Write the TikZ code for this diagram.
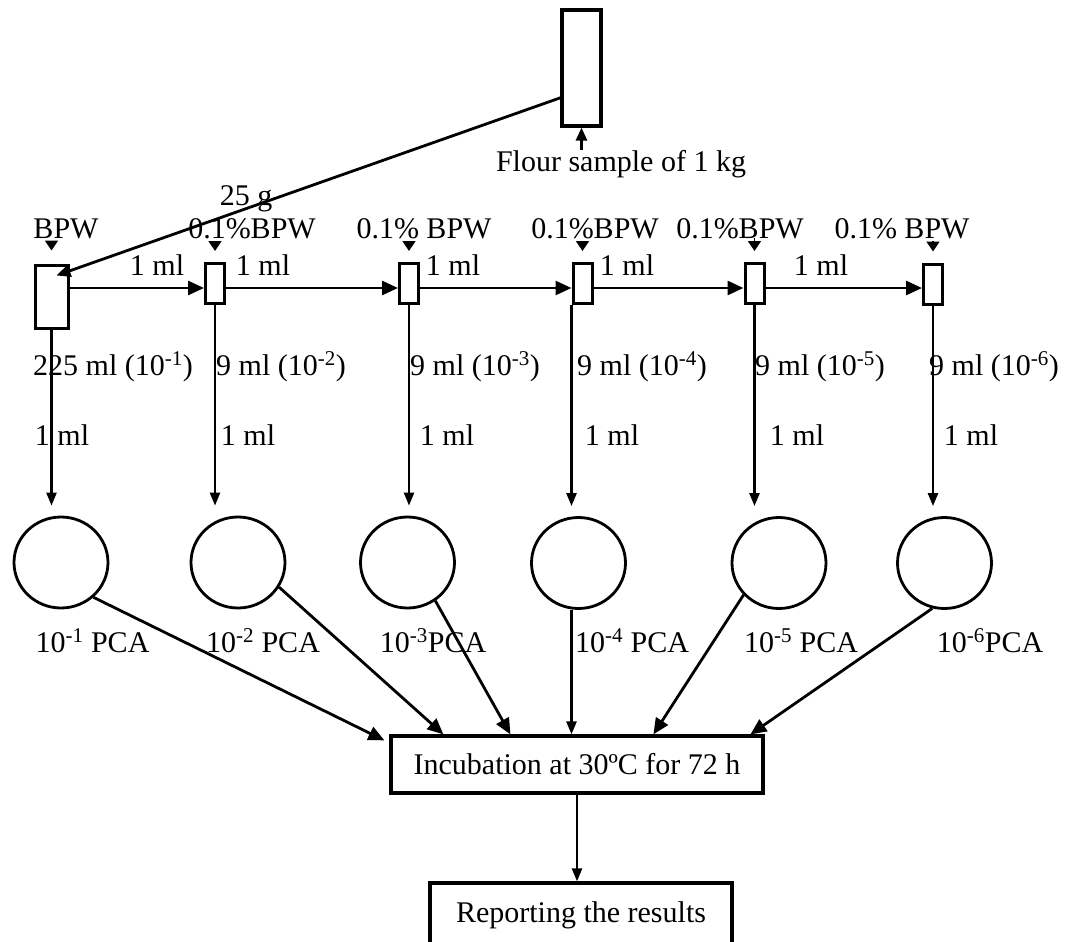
\documentclass[tikz,border=0pt]{standalone}
\usepackage{fontspec}
\setmainfont{Liberation Serif}
\usetikzlibrary{arrows.meta,calc,shapes.geometric}
\begin{document}
\begin{tikzpicture}[x=1pt,y=-1pt,
  every node/.style={font=\fontsize{30}{36}\selectfont},
  lbl/.style={inner sep=0pt, anchor=base},
  lblw/.style={inner sep=0pt, anchor=base west},
  tube/.style={draw, line width=3pt, rectangle, inner sep=0pt,
               minimum width=19pt, minimum height=40pt},
  plate/.style={draw, line width=2.8pt, ellipse, inner sep=0pt,
                minimum width=94pt, minimum height=91pt},
  stepbox/.style={draw, line width=3.2pt, rectangle, inner sep=0pt},
  conn/.style={line width=2.8pt, -{Triangle[length=16pt,width=14pt]}},
  drop/.style={line width=2.4pt, -{Triangle[length=13pt,width=10pt]}},
  feed/.style={line width=1.8pt, -{Triangle[length=10pt,width=13pt]},
               shorten <=3pt, shorten >=11pt},
]
\fill[white] (0,0) rectangle (1069,942);
\useasboundingbox (0,0) rectangle (1069,942);

% flour sample container
\node[stepbox, minimum width=39pt, minimum height=116pt] (flour) at (581.5,68) {};
\node[lbl] (flourlbl) at (621,171) {Flour sample of 1 kg};

% dilution tubes
\node[tube, minimum width=33pt, minimum height=63pt] (t1) at (51.5,296.5) {};
\node[tube] (t2) at (215,283.5) {};
\node[tube] (t3) at (409,283.5) {};
\node[tube] (t4) at (582.5,283.5) {};
\node[tube] (t5) at (754.5,283.5) {};
\node[tube] (t6) at (933,284) {};

% diluent labels
\node[lbl] (b1) at (66,238) {BPW};
\node[lbl] (b2) at (252,238) {0.1\%BPW};
\node[lbl] (b3) at (424,238) {0.1\% BPW};
\node[lbl] (b4) at (595,238) {0.1\%BPW};
\node[lbl] (b5) at (740,238) {0.1\%BPW};
\node[lbl] (b6) at (902,238) {0.1\% BPW};

\draw[feed, shorten >=13pt] (b1.base -| t1.north) -- (t1.north);
\draw[feed] (b2.base -| t2.north) -- (t2.north);
\draw[feed] (b3.base -| t3.north) -- (t3.north);
\draw[feed] (b4.base -| t4.north) -- (t4.north);
\draw[feed, shorten <=0pt] (b5.base -| t5.north) -- (t5.north);
\draw[feed] (b6.base -| t6.north) -- (t6.north);

% 25 g taken from the sample
\node[lbl] (g25) at (246,205) {25 g};
\draw[conn, -{Triangle[length=14pt,width=12pt]}]
  ($(flour.south west)!0.25!(flour.north west)$) -- ($(t1.north east)+(-13,12)$);
\draw[conn, -{Triangle[length=13pt,width=11pt]}] (flourlbl.north -| flour.south) -- (flour.south);

% serial transfers
\coordinate (row) at (0,288);
\draw[conn] (t1.east |- row) -- (t2.west |- row);
\draw[conn] (t2.east |- row) -- (t3.west |- row);
\draw[conn] (t3.east |- row) -- (t4.west |- row);
\draw[conn] (t4.east |- row) -- (t5.west |- row);
\draw[conn] (t5.east |- row) -- (t6.west |- row);

\node[lbl] (m1) at (157,275) {1 ml};
\node[lbl] (m2) at (263,275) {1 ml};
\node[lbl] (m3) at (453,275) {1 ml};
\node[lbl] (m4) at (627,275) {1 ml};
\node[lbl] (m5) at (821,275) {1 ml};

% plates
\node[plate] (c1) at (61,562.5) {};
\node[plate] (c2) at (238,562.5) {};
\node[plate] (c3) at (407.5,562.5) {};
\node[plate] (c4) at (578.5,563) {};
\node[plate] (c5) at (779,563) {};
\node[plate] (c6) at (944.5,563) {};

% volume labels
\node[lblw] (v1) at (33,375) {225 ml (10\textsuperscript{-1})};
\node[lblw] (v2) at (216,375) {9 ml (10\textsuperscript{-2})};
\node[lblw] (v3) at (410,375) {9 ml (10\textsuperscript{-3})};
\node[lblw] (v4) at (577,375) {9 ml (10\textsuperscript{-4})};
\node[lblw] (v5) at (755,375) {9 ml (10\textsuperscript{-5})};
\node[lblw] (v6) at (929,375) {9 ml (10\textsuperscript{-6})};

\node[lbl] (p1) at (62,445) {1 ml};
\node[lbl] (p2) at (248,445) {1 ml};
\node[lbl] (p3) at (447,445) {1 ml};
\node[lbl] (p4) at (612,445) {1 ml};
\node[lbl] (p5) at (797,445) {1 ml};
\node[lbl] (p6) at (971,445) {1 ml};

% plating
\draw[drop, shorten >=10pt] (t1.south) -- (t1.south |- c1.north);
\draw[drop, shorten >=10pt] (t2.south) -- (t2.south |- c2.north);
\draw[drop, shorten >=10pt] (t3.south) -- (t3.south |- c3.north);
\draw[drop, shorten >=10pt] (t4.south west) -- (t4.south west |- c4.north);
\draw[drop, shorten >=10pt] (t5.south) -- (t5.south |- c5.north);
\draw[drop, shorten >=10pt] (t6.south) -- (t6.south |- c6.north);

\node[lbl] (l1) at (92.5,652) {10\textsuperscript{-1} PCA};
\node[lbl] (l2) at (263,652) {10\textsuperscript{-2} PCA};
\node[lbl] (l3) at (433,652) {10\textsuperscript{-3}PCA};
\node[lbl] (l4) at (632,652) {10\textsuperscript{-4} PCA};
\node[lbl] (l5) at (801,652) {10\textsuperscript{-5} PCA};
\node[lbl] (l6) at (990,652) {10\textsuperscript{-6}PCA};

% incubation and reporting
\node[stepbox, minimum width=372pt, minimum height=57pt] (inc) at (577,764.5)
  {Incubation at 30ºC for 72 h};
\node[stepbox, minimum width=302pt, minimum height=64pt] (rep) at (581,915)
  {Reporting the results};

\draw[conn] (c1.-47) -- ($(inc.north west)+(-5,6)$);
\draw[conn] (c2.-31) -- ($(inc.north west)+(54,0)$);
\draw[conn] (c3.-54) -- ($(inc.north west)+(121,0)$);
\draw[drop] (c4.south -| t4.south west) -- (inc.north -| t4.south west);
\draw[conn] (c5.-138) -- ($(inc.north west)+(264,0)$);
\draw[conn] (c6.-105) -- ($(inc.north west)+(361,0)$);
\draw[drop] (inc.south) -- (inc.south |- rep.north);
\end{tikzpicture}
\end{document}
